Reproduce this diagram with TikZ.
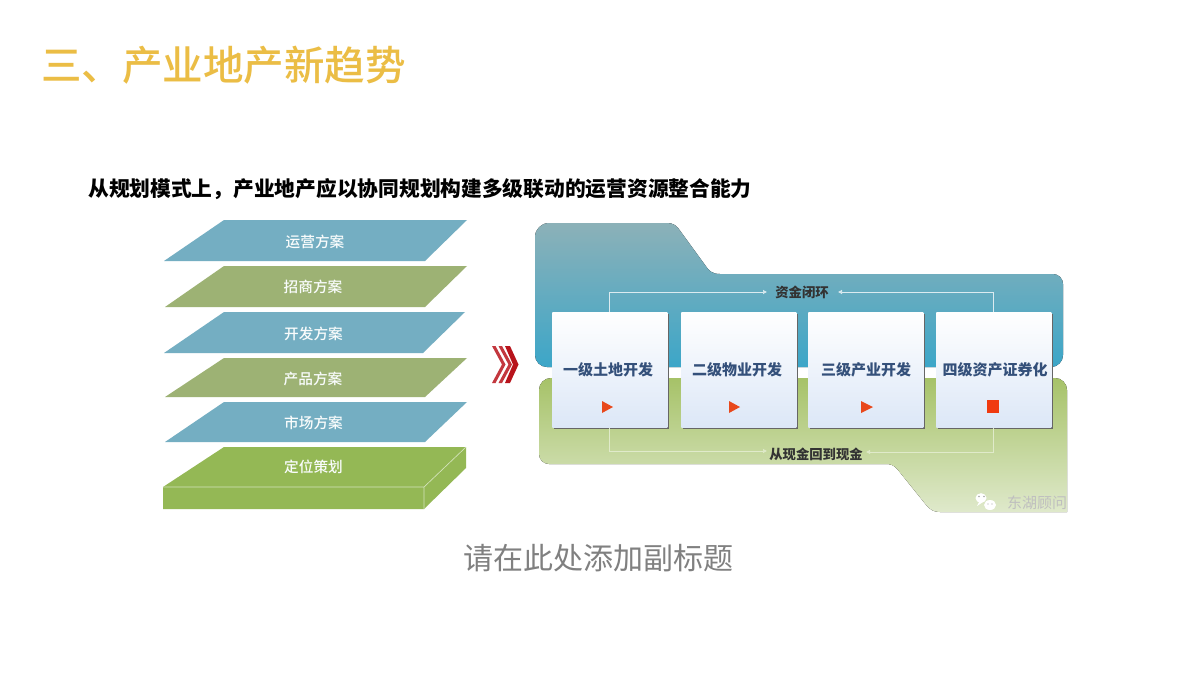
\documentclass[tikz,border=0pt]{standalone}
\usepackage{fontspec}
\setmainfont{Noto Sans CJK SC}
\newfontfamily\medfont{Noto Sans CJK SC Medium}
\usetikzlibrary{arrows.meta,calc}
\definecolor{titlegold}{HTML}{EBBD45}
\definecolor{planblue}{HTML}{74AEC2}
\definecolor{planolive}{HTML}{9DB274}
\definecolor{plangreen}{HTML}{94B855}
\definecolor{labelnavy}{HTML}{34507A}
\definecolor{tealtop}{HTML}{8CB1B8}
\definecolor{tealbot}{HTML}{3CA6C8}
\definecolor{greentop}{HTML}{A6C268}
\definecolor{greenbot}{HTML}{DFE9CB}
\definecolor{cardbot}{HTML}{DCE7F7}
\definecolor{playred}{HTML}{E8481C}
\definecolor{stopred}{HTML}{F03A10}
\tikzset{
  x=0.75pt,y=-0.75pt,
  plabel/.style={text=white!96!planblue,font=\medfont\fontsize{11pt}{13pt}\selectfont,inner sep=0pt},
  plate/.style={fill=#1},
  card/.style={minimum width=86.25pt,minimum height=86.25pt,inner sep=0pt,anchor=north west,
     top color=white,bottom color=cardbot},
  cardtext/.style={text=labelnavy,font=\bfseries\fontsize{11.25pt}{13pt}\selectfont,inner sep=0pt},
  looptext/.style={text=black!80,font=\bfseries\fontsize{10pt}{12pt}\selectfont,inner sep=0pt},
  loopline/.style={draw=white!75!planblue,line width=0.5pt,-{Latex[length=3pt,width=3.5pt]}},
  loopgreen/.style={draw=white!65!greentop,line width=0.5pt,-{Latex[length=3pt,width=3.5pt]}},
  cardshadow/.style={fill=black!60},
  redmark/.style={fill=#1},
  wxbubble/.style={fill=white},
  wxeye/.style={fill=black!35},
}
\begin{document}
\begin{tikzpicture}
\useasboundingbox (0,0) rectangle (1200,675);
\fill[white] (0,0) rectangle (1200,675);

\node[anchor=west,text=titlegold,font=\medfont\fontsize{30.4pt}{34pt}\selectfont,inner sep=0pt] (title) at (41,65) {三、产业地产新趋势};
\node[anchor=west,text=black,font=\bfseries\fontsize{15.55pt}{18pt}\selectfont,inner sep=0pt] (head) at (88,189) {从规划模式上，产业地产应以协同规划构建多级联动的运营资源整合能力};
\node[text=black!50,font=\fontsize{22.5pt}{26pt}\selectfont,inner sep=0pt] (sub) at (598.5,558) {请在此处添加副标题};

% left stack
\fill[plate=planblue] (224,220) -- (467,220) -- (425,261) -- (164,261) -- cycle;
\fill[plate=planolive] (224,266) -- (467,266) -- (425,307) -- (165,307) -- cycle;
\fill[plate=planblue] (224,312) -- (465,312) -- (423,353) -- (164,353) -- cycle;
\fill[plate=planolive] (224,358) -- (467,358) -- (425,397) -- (165,397) -- cycle;
\fill[plate=planblue] (224,402) -- (467,402) -- (425,442) -- (165,442) -- cycle;
\fill[plate=plangreen] (224,447) -- (466,447) -- (466,468) -- (424,509) -- (163,509) -- (163,487) -- cycle;
\draw[white!60!plangreen,line width=0.5pt] (163,487) -- (424,487) -- (466,447) (424,487) -- (424,509);
\node[plabel] (p1) at (315,241.5) {运营方案};
\node[plabel] (p2) at (313,287) {招商方案};
\node[plabel] (p3) at (313.5,334) {开发方案};
\node[plabel] (p4) at (313,378.5) {产品方案};
\node[plabel] (p5) at (313.5,423) {市场方案};
\node[plabel] (p6) at (313.5,467) {定位策划};

% chevrons
\definecolor{chevtop}{HTML}{B8141C}
\foreach \dx in {0,6.5}
  \fill[chevtop!85!white] ($(492,346)+(\dx,0)$) -- ++(3.5,0) -- ++(10,18.5) -- ++(-10,18.5) -- ++(-3.5,0) -- ++(10,-18.5) -- cycle;
\fill[chevtop] (505,346) -- (510,346) -- (518.5,364.5) -- (510,383) -- (505,383) -- (513,364.5) -- cycle;

% background panels
\fill[top color=tealtop,bottom color=tealbot]
  (535,237) arc[start angle=180,end angle=270,radius=14] -- (667,223)
  .. controls (674,223) and (677,226) .. (681,232) -- (705,265)
  .. controls (709,271) and (712,274) .. (720,274) -- (1053,274)
  arc[start angle=270,end angle=360,radius=10] -- (1063,355)
  arc[start angle=0,end angle=90,radius=12] -- (547,367)
  arc[start angle=90,end angle=180,radius=12] -- cycle;
\fill[top color=greentop,bottom color=greenbot]
  (539,390) arc[start angle=180,end angle=270,radius=12] -- (1055,378)
  arc[start angle=270,end angle=360,radius=12] -- (1067,512) -- (940,512)
  .. controls (934,512) and (931,510) .. (927,506) -- (898,470)
  .. controls (894,465) and (891,464) .. (885,464) -- (549,464)
  arc[start angle=90,end angle=180,radius=10] -- cycle;

% cards
\foreach \cx in {552,681,808,936}
  \fill[cardshadow] (\cx+2,314) rectangle (\cx+116.5,428.8);
\node[card] (c1) at (552,312) {};
\node[card] (c2) at (681,312) {};
\node[card] (c3) at (808,312) {};
\node[card] (c4) at (936,312) {};
\node[cardtext] (t1) at (608,370) {一级土地开发};
\node[cardtext] (t2) at (737,370) {二级物业开发};
\node[cardtext] (t3) at (866,370) {三级产业开发};
\node[cardtext] (t4) at (995,370) {四级资产证券化};
\fill[redmark=playred] (602,401) -- (613,407) -- (602,413) -- cycle;
\fill[redmark=playred] (729,401) -- (740,407) -- (729,413) -- cycle;
\fill[redmark=playred] (861,401) -- (873,407) -- (861,413) -- cycle;
\fill[redmark=stopred] (987,400) rectangle (999,413);

% loop labels and connectors
\node[looptext] (top) at (802,292) {资金闭环};
\node[looptext] (bot) at (816,454) {从现金回到现金};
\coordinate (ta) at (767,292);
\coordinate (tb) at (838,292);
\coordinate (ba) at (767,451);
\coordinate (bb) at (866,452);
\draw[loopline] (c1.north) |- (ta);
\draw[loopline] (c4.north) |- (tb);
\draw[loopgreen] (c1.south) |- (ba);
\draw[loopgreen] (c4.south) |- (bb);

% watermark
\fill[wxbubble] (981,498) ellipse[x radius=5.5,y radius=4.8];
\fill[wxbubble] (979,502) -- (977,506) -- (983,502) -- cycle;
\fill[wxbubble] (990,505) ellipse[x radius=6,y radius=5];
\fill[wxeye] (979,496.5) circle[radius=0.8] (984,496.5) circle[radius=0.8] (988,504) circle[radius=0.7] (992,504) circle[radius=0.7];
\node[text=white!50!gray,font=\fontsize{11.25pt}{13pt}\selectfont,inner sep=0pt] (wm) at (1037,503) {东湖顾问};
\end{tikzpicture}
\end{document}
